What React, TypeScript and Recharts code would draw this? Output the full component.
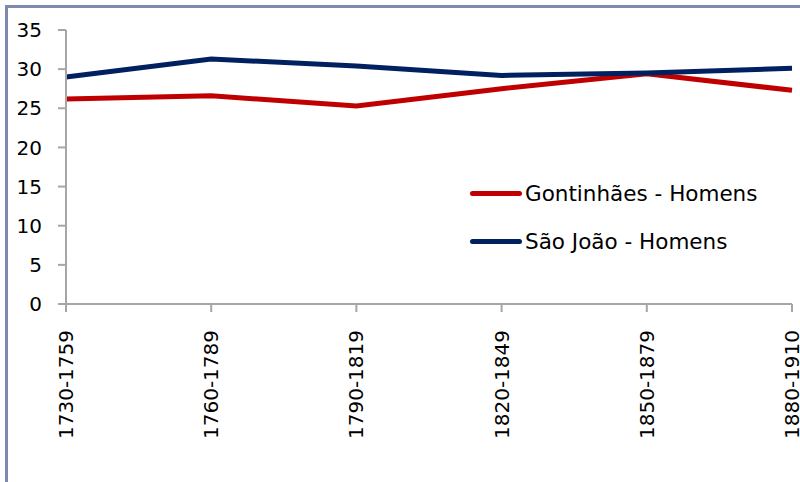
import { LineChart, Line, XAxis, YAxis } from "recharts";

const periods = ["1730-1759", "1760-1789", "1790-1819", "1820-1849", "1850-1879", "1880-1910"];
const gontinhaes = [26.2, 26.6, 25.3, 27.5, 29.4, 27.3];
const saoJoao = [29.0, 31.3, 30.4, 29.2, 29.5, 30.1];
const yTicks = [0, 5, 10, 15, 20, 25, 30, 35];

const SERIES = [
  { key: "gontinhaes", name: "Gontinhães - Homens", color: "#c00000" },
  { key: "saoJoao", name: "São João - Homens", color: "#002060" },
];

const data = periods.map((p, i) => ({
  period: p,
  gontinhaes: gontinhaes[i],
  saoJoao: saoJoao[i],
}));

const FONT = "'DejaVu Sans', sans-serif";

function PeriodTick({ x, y, payload }: any) {
  return (
    <text
      x={0}
      y={0}
      transform={`translate(${x},${y + 16}) rotate(-90)`}
      textAnchor="end"
      dominantBaseline="central"
      fill="#000"
      fontSize={20}
      fontFamily={FONT}
    >
      {payload.value}
    </text>
  );
}

export default function App() {
  return (
    <div
      style={{
        position: "absolute",
        left: 0,
        top: 0,
        width: 800,
        height: 482,
        overflow: "hidden",
        background: "#fff",
      }}
    >
      <div
        style={{
          position: "absolute",
          left: 5,
          top: 5,
          width: 900,
          height: 600,
          border: "3px solid #7f89ad",
          boxSizing: "border-box",
        }}
      />
      <LineChart
        width={800}
        height={482}
        data={data}
        margin={{ top: 30, right: 8, left: 0, bottom: 0 }}
        style={{ position: "absolute", left: 0, top: 0 }}
      >
        <XAxis
          dataKey="period"
          height={178}
          interval={0}
          tick={<PeriodTick />}
          tickSize={8}
          axisLine={{ stroke: "#a6a6a6", strokeWidth: 2 }}
          tickLine={{ stroke: "#a6a6a6", strokeWidth: 2 }}
        />
        <YAxis
          width={66}
          domain={[0, 35]}
          ticks={yTicks}
          interval={0}
          tickSize={8}
          tickMargin={16}
          axisLine={{ stroke: "#a6a6a6", strokeWidth: 2 }}
          tickLine={{ stroke: "#a6a6a6", strokeWidth: 2 }}
          tick={{ fill: "#000", fontSize: 20, fontFamily: FONT }}
        />
        {SERIES.map((s) => (
          <Line
            key={s.key}
            type="linear"
            dataKey={s.key}
            name={s.name}
            stroke={s.color}
            strokeWidth={5}
            dot={false}
            activeDot={false}
            isAnimationActive={false}
          />
        ))}
      </LineChart>
      <div
        style={{
          position: "absolute",
          left: 470,
          top: 169,
          fontFamily: FONT,
          fontSize: 21.5,
          color: "#000",
          whiteSpace: "nowrap",
        }}
      >
        {SERIES.map((s) => (
          <div key={s.key} style={{ display: "flex", alignItems: "center", height: 48 }}>
            <span
              style={{
                display: "inline-block",
                width: 52,
                height: 5,
                borderRadius: 2.5,
                background: s.color,
                marginRight: 3,
              }}
            />
            <span>{s.name}</span>
          </div>
        ))}
      </div>
    </div>
  );
}
